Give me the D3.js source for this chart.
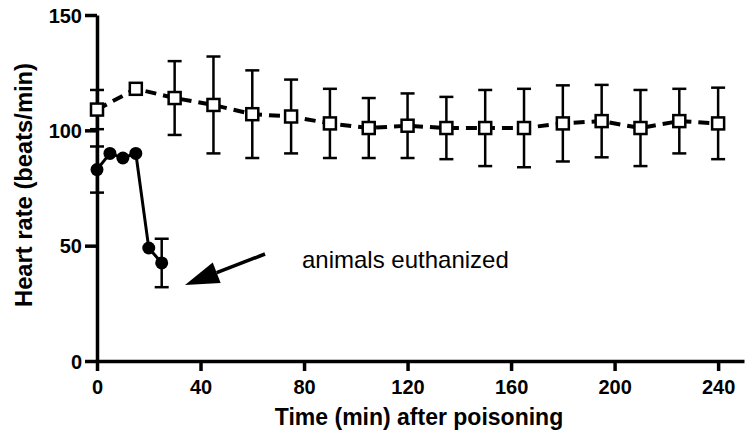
<!DOCTYPE html>
<html><head><meta charset="utf-8">
<script src="https://cdn.jsdelivr.net/npm/d3@7"></script>
<style>body{margin:0;background:#fff}svg{display:block}text{font-family:"Liberation Sans",Arial,sans-serif}</style>
</head><body><svg id="c" width="749" height="441"></svg>
<script>
const controlTime = [0,15,30,45,60,75,90,105,120,135,150,165,180,195,210,225,240];
const controlMean = [109,118,114,111,107,106,103,101,102,101,101,101,103,104,101,104,103];
const controlSD   = [8.5,0,16,21,19,16,15,13,14,13.5,16.5,17,16.5,15.7,16.5,14,15.5];
const poisonTime = [0,5,10,15,20,25];
const poisonMean = [83,90,88,90,49,42.5];
const poisonSD   = [10,0,0,0,0,10.5];
const xTicks = [0,40,80,120,160,200,240];
const yTicks = [0,50,100,150];
const annotation = "animals euthanized";

const svg = d3.select("#c");
const x = d3.scaleLinear().domain([0,250]).range([97,744]);
const y = d3.scaleLinear().domain([0,150]).range([361,15]);

// axes
const xa = svg.append("g").attr("transform",`translate(0,${y(0)})`)
  .call(d3.axisBottom(x).tickValues(xTicks).tickSize(10).tickSizeOuter(0).tickPadding(9));
const ya = svg.append("g").attr("transform",`translate(${x(0)},0)`)
  .call(d3.axisLeft(y).tickValues(yTicks).tickSize(12).tickSizeOuter(0).tickPadding(3));
[xa,ya].forEach(a=>{
  a.select(".domain").attr("stroke","#000").attr("stroke-width",3.5);
  a.selectAll(".tick line").attr("stroke","#000").attr("stroke-width",3.5);
  a.selectAll(".tick text").attr("fill","#000").attr("font-size",20).attr("font-weight","bold")
   .style("font-family",'"Liberation Sans",Arial,sans-serif');
});
ya.selectAll(".tick text").attr("dy","0.36em");

svg.append("text").attr("x",419).attr("y",425).attr("text-anchor","middle")
  .attr("font-size",23).attr("font-weight","bold").text("Time (min) after poisoning");
svg.append("text").attr("transform","translate(32,185) rotate(-90)").attr("text-anchor","middle")
  .attr("font-weight","bold").attr("textLength",244).attr("lengthAdjust","spacingAndGlyphs")
  .style("font-size","23px").text("Heart rate (beats/min)");

// error bars
function errBars(times, means, sds){
  const g = svg.append("g").attr("stroke","#000").attr("stroke-width",2.5);
  times.forEach((t,i)=>{
    if(!sds[i]) return;
    const cx = x(t), top = y(means[i]+sds[i]), bot = y(means[i]-sds[i]);
    g.append("line").attr("x1",cx).attr("x2",cx).attr("y1",top).attr("y2",bot);
    g.append("line").attr("x1",cx-7).attr("x2",cx+7).attr("y1",top).attr("y2",top);
    g.append("line").attr("x1",cx-7).attr("x2",cx+7).attr("y1",bot).attr("y2",bot);
  });
}
errBars(controlTime, controlMean, controlSD);
errBars(poisonTime, poisonMean, poisonSD);

const line = d3.line().x(d=>x(d[0])).y(d=>y(d[1]));
svg.append("path").datum(controlTime.map((t,i)=>[t,controlMean[i]]))
  .attr("d",line).attr("fill","none").attr("stroke","#000").attr("stroke-width",4)
  .attr("stroke-dasharray","11,7");
svg.append("path").datum(poisonTime.map((t,i)=>[t,poisonMean[i]]))
  .attr("d",line).attr("fill","none").attr("stroke","#000").attr("stroke-width",3);

svg.append("g").selectAll("rect").data(controlTime).join("rect")
  .attr("x",(d)=>x(d)-6).attr("y",(d,i)=>y(controlMean[i])-6).attr("width",12).attr("height",12)
  .attr("fill","#fff").attr("stroke","#000").attr("stroke-width",2.5);
svg.append("g").selectAll("circle").data(poisonTime).join("circle")
  .attr("cx",d=>x(d)).attr("cy",(d,i)=>y(poisonMean[i])).attr("r",6.5).attr("fill","#000");

// arrow
const ax1=265, ay1=254, ax2=185, ay2=285;
const ang = Math.atan2(ay2-ay1, ax2-ax1);
const hl=34, hw=11;
const bx = ax2 - hl*Math.cos(ang), by = ay2 - hl*Math.sin(ang);
svg.append("line").attr("x1",ax1).attr("y1",ay1).attr("x2",bx).attr("y2",by)
  .attr("stroke","#000").attr("stroke-width",3.5);
svg.append("path").attr("d",`M${ax2},${ay2}L${bx+hw*Math.sin(ang)},${by-hw*Math.cos(ang)}L${bx-hw*Math.sin(ang)},${by+hw*Math.cos(ang)}Z`)
  .attr("fill","#000");
svg.append("text").attr("x",302).attr("y",268).attr("font-size",24).text(annotation);
</script></body></html>
